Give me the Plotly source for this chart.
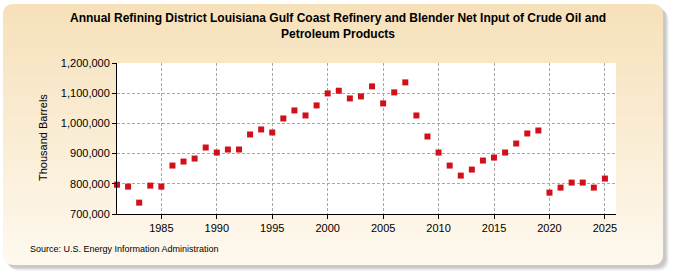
import plotly.graph_objects as go

years = list(range(1981, 2026))
values = [
    797000, 790700, 737600, 794000, 790700, 860400, 873700, 883600, 920100, 903500,
    913500, 913500, 963300, 979900, 969900, 1016400, 1042900, 1026300, 1059500, 1099300,
    1108200, 1082700, 1089400, 1122600, 1066200, 1102700, 1135800, 1026300, 956600, 903500,
    860400, 827200, 847100, 877000, 886900, 903500, 933400, 966600, 976500, 770800,
    787400, 804000, 804000, 787400, 817300,
]
y_ticks = [700000, 800000, 900000, 1000000, 1100000, 1200000]
x_ticks = [1985, 1990, 1995, 2000, 2005, 2010, 2015, 2020, 2025]

title_text = ("Annual Refining District Louisiana Gulf Coast Refinery and Blender Net Input of Crude Oil and"
              "<br>Petroleum Products")
y_title = "Thousand Barrels"
source_text = "Source: U.S. Energy Information Administration"

W, H = 675, 275
ML, MR, MT, MB = 117, 59, 63, 61
PW = W - ML - MR
PH = H - MT - MB


def px(x):
    return (x - ML) / PW


def py(y):
    return (H - MB - y) / PH


def rrect_path(x0, y0, x1, y1, r, top=True, bottom=True):
    rt = r if top else 0
    rb = r if bottom else 0
    pts = []
    pts.append(f"M{px(x0 + rt)},{py(y0)}")
    pts.append(f"L{px(x1 - rt)},{py(y0)}")
    if rt:
        pts.append(f"Q{px(x1)},{py(y0)} {px(x1)},{py(y0 + rt)}")
    pts.append(f"L{px(x1)},{py(y1 - rb)}")
    if rb:
        pts.append(f"Q{px(x1)},{py(y1)} {px(x1 - rb)},{py(y1)}")
    pts.append(f"L{px(x0 + rb)},{py(y1)}")
    if rb:
        pts.append(f"Q{px(x0)},{py(y1)} {px(x0)},{py(y1 - rb)}")
    pts.append(f"L{px(x0)},{py(y0 + rt)}")
    if rt:
        pts.append(f"Q{px(x0)},{py(y0)} {px(x0 + rt)},{py(y0)}")
    pts.append("Z")
    return " ".join(pts)


shapes = []
# shadow
px0, py0, px1, py1, R = 3, 4, 663, 265, 11
for i, a in enumerate([0.06, 0.08, 0.10, 0.12]):
    off = 6 - i
    shapes.append(dict(type="path", xref="paper", yref="paper", layer="below",
                       path=rrect_path(px0 + off, py0 + off, px1 + off, py1 + off, R),
                       fillcolor=f"rgba(90,90,90,{a})", line=dict(width=0)))

# gradient panel
top_c = (246, 225, 186)
bot_c = (254, 248, 238)
nb = 26
bh = (py1 - py0) / nb
for i in range(nb):
    t = i / (nb - 1)
    c = tuple(round(top_c[k] + (bot_c[k] - top_c[k]) * t) for k in range(3))
    y0 = py0 + i * bh
    y1 = py0 + (i + 1) * bh + (0.6 if i < nb - 1 else 0)
    if i == 0:
        path = rrect_path(px0, y0, px1, y1, R, top=True, bottom=False)
    elif i == nb - 1:
        path = rrect_path(px0, y0, px1, y1, R, top=False, bottom=True)
    else:
        path = rrect_path(px0, y0, px1, y1, 0, top=False, bottom=False)
    shapes.append(dict(type="path", xref="paper", yref="paper", layer="below",
                       path=path, fillcolor=f"rgb{c}", line=dict(width=0)))

# white plot area
shapes.append(dict(type="rect", xref="paper", yref="paper", layer="below",
                   x0=0, x1=1, y0=0, y1=1, fillcolor="white", line=dict(width=0)))

fig = go.Figure()
fig.add_trace(go.Scatter(
    x=years, y=values, mode="markers",
    marker=dict(symbol="square", size=6, color="#D0111B", line=dict(width=0)),
    cliponaxis=False, showlegend=False,
))

font_family = "Arial, Liberation Sans, sans-serif"
fig.update_layout(
    width=W, height=H,
    margin=dict(l=ML, r=MR, t=MT, b=MB, pad=0),
    paper_bgcolor="white",
    plot_bgcolor="white",
    font=dict(family=font_family, size=11, color="#000000"),
    shapes=shapes,
    xaxis=dict(
        range=[1981, 2026], tickvals=x_ticks, ticktext=[str(v) for v in x_ticks],
        showgrid=True, gridcolor="#A8A8A8", griddash="3px,2px", gridwidth=1,
        showline=True, linecolor="black", linewidth=1,
        ticks="outside", ticklen=4, tickcolor="black",
        tickfont=dict(size=11, color="#000000"), zeroline=False, fixedrange=True,
    ),
    yaxis=dict(
        range=[700000, 1200000], tickvals=y_ticks,
        ticktext=[f"{v:,}" for v in y_ticks],
        showgrid=True, gridcolor="#A8A8A8", griddash="3px,2px", gridwidth=1,
        showline=True, linecolor="black", linewidth=1,
        ticks="outside", ticklen=4, tickcolor="black",
        tickfont=dict(size=11, color="#000000"), zeroline=False, fixedrange=True,
    ),
    annotations=[
        dict(text="<b>" + title_text + "</b>", xref="paper", yref="paper",
             x=px(337.5), y=py(9), xanchor="center", yanchor="top", showarrow=False,
             font=dict(family=font_family, size=12, color="#000000"), align="center"),
        dict(text=y_title, xref="paper", yref="paper", x=px(43), y=py(138),
             xanchor="center", yanchor="middle", textangle=-90, showarrow=False,
             font=dict(family=font_family, size=11, color="#000000")),
        dict(text=source_text, xref="paper", yref="paper", x=px(28), y=py(249),
             xanchor="left", yanchor="middle", showarrow=False,
             font=dict(family=font_family, size=9, color="#000000")),
    ],
)

fig.write_html("out.html")
